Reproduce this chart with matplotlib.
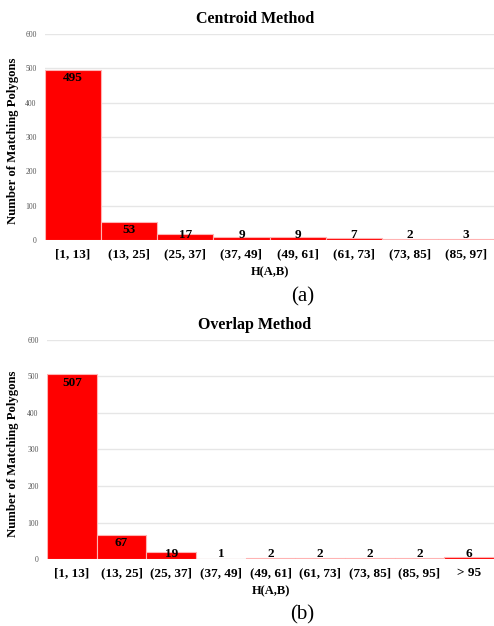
import matplotlib
matplotlib.use("Agg")
import matplotlib.pyplot as plt

plt.rcParams['font.family'] = ['Liberation Serif', 'DejaVu Serif']

centroid_bins = ['[1, 13]', '(13, 25]', '(25, 37]', '(37, 49]', '(49, 61]',
                 '(61, 73]', '(73, 85]', '(85, 97]']
centroid_counts = [495, 53, 17, 9, 9, 7, 2, 3]

overlap_bins = ['[1, 13]', '(13, 25]', '(25, 37]', '(37, 49]', '(49, 61]',
                '(61, 73]', '(73, 85]', '(85, 95]', '> 95']
overlap_counts = [507, 67, 19, 1, 2, 2, 2, 2, 6]

yticks = [0, 100, 200, 300, 400, 500, 600]

fig = plt.figure(figsize=(4.94, 6.26), dpi=100)


def draw(ax, bins, counts, title, left_px):
    x = range(len(bins))
    ax.bar(x, counts, width=1.0, color='#ff0000', edgecolor='#ffb3b3',
           linewidth=0.8, zorder=3)
    for i, v in enumerate(counts):
        ax.text(i, max(v - 24, 15), str(v), ha='center', va='center',
                fontsize=9.5, fontweight='bold', zorder=4)
    ax.set_xlim(-0.5, len(bins) - 0.5)
    ax.set_ylim(0, 600)
    ax.set_yticks(yticks)
    ax.set_yticklabels([str(t) for t in yticks], fontsize=5.5, color='#555555')
    ax.set_xticks(list(x))
    ax.set_xticklabels(bins, fontsize=9.5, fontweight='bold')
    ax.tick_params(length=0, axis='y', pad=6)
    ax.tick_params(length=0, axis='x', pad=6)
    ax.grid(axis='y', color='#e6e6e6', linewidth=1, zorder=0)
    for s in ax.spines.values():
        s.set_visible(False)
    width_px = 494 - left_px
    ax.set_title(title, fontsize=11.5, fontweight='bold', pad=8,
                 x=(255 - left_px) / width_px)
    ax.set_xlabel('H(A,B)', fontsize=9, fontweight='bold', labelpad=4)
    ax.set_ylabel('Number of Matching Polygons', fontsize=9.2,
                  fontweight='bold')
    ax.yaxis.set_label_coords((19 - left_px) / width_px, 0.48)


ax1 = fig.add_axes([45 / 494, 0.6166, 449 / 494, 0.329])
draw(ax1, centroid_bins, centroid_counts, 'Centroid Method', 45)
fig.text(303 / 494, 1 - 297 / 626, '(a)', ha='center', va='center', fontsize=15)

ax2 = fig.add_axes([47 / 494, 0.107, 447 / 494, 0.350])
draw(ax2, overlap_bins, overlap_counts, 'Overlap Method', 47)
fig.text(302 / 494, 1 - 615 / 626, '(b)', ha='center', va='center', fontsize=15)

fig.savefig('out.png', dpi=100)
